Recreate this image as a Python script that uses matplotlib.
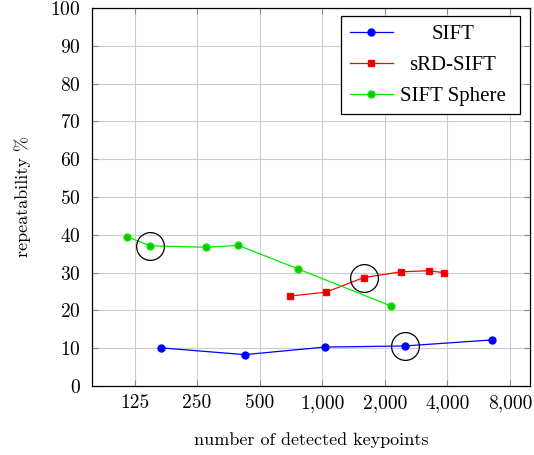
import numpy as np
import matplotlib
matplotlib.use("Agg")
import matplotlib.pyplot as plt
from matplotlib.ticker import FixedLocator, FixedFormatter, NullLocator

# data
sift_x = [168, 423, 1028, 2497, 6553]
sift_y = [10.1, 8.3, 10.3, 10.6, 12.2]

srd_x = [697, 1040, 1585, 2390, 3253, 3840]
srd_y = [23.8, 24.8, 28.7, 30.2, 30.5, 30.0]

sphere_x = [115, 149, 277, 395, 764, 2138]
sphere_y = [39.5, 37.1, 36.7, 37.2, 31.0, 21.2]

# highlighted points (circled)
circ_x = [149, 1585, 2497]
circ_y = [37.1, 28.7, 10.6]

xticks = [125, 250, 500, 1000, 2000, 4000, 8000]
xlabels = ["125", "250", "500", "1,000", "2,000", "4,000", "8,000"]
yticks = list(range(0, 101, 10))

plt.rcParams["font.family"] = "cmr10"
plt.rcParams["axes.formatter.use_mathtext"] = True
plt.rcParams["xtick.labelsize"] = 14
plt.rcParams["ytick.labelsize"] = 14

fig = plt.figure(figsize=(5.34, 4.55), dpi=100)
ax = fig.add_axes([0.1723, 0.1516, 0.8202, 0.8308])

ax.plot(sift_x, sift_y, "-o", color="#0000ff", lw=0.9, ms=5, label="SIFT", zorder=3)
ax.plot(srd_x, srd_y, "-s", color="#ff0000", lw=0.9, ms=5, mfc="#e00000",
        label="sRD-SIFT", zorder=3)
ax.plot(sphere_x, sphere_y, "-o", color="#00ee00", lw=0.9, ms=5, mfc="#22bb00",
        label="SIFT Sphere", zorder=3)
ax.plot(circ_x, circ_y, "o", mfc="none", mec="black", ms=20, mew=0.9, zorder=4)

ax.set_xscale("log", base=2)
ax.set_xlim(78, 10000)
ax.set_ylim(0, 100)
ax.xaxis.set_major_locator(FixedLocator(xticks))
ax.xaxis.set_major_formatter(FixedFormatter(xlabels))
ax.xaxis.set_minor_locator(NullLocator())
ax.set_yticks(yticks)

ax.grid(True, color="#cccccc", lw=0.8)
ax.set_axisbelow(True)
ax.tick_params(direction="in", top=True, right=True, length=4, color="#888888")
ax.tick_params(axis="y", pad=8)
ax.tick_params(axis="x", pad=6)
for s in ax.spines.values():
    s.set_linewidth(0.9)

ax.set_xlabel("number of detected keypoints", fontsize=13, labelpad=14)
ax.set_ylabel("repeatability %", fontsize=13, labelpad=14)

leg = ax.legend(loc="upper right", prop={"family": "Liberation Serif", "size": 15},
                fancybox=False, edgecolor="black", framealpha=1, handlelength=2.1,
                handletextpad=0.6, borderaxespad=0,
                bbox_to_anchor=(1 - 10 / 438, 1 - 8 / 378),
                labelspacing=0.55)
leg.get_frame().set_linewidth(0.9)

# center the legend entries like the reference
fig.canvas.draw()
r = fig.canvas.get_renderer()
texts = leg.get_texts()
widths = [t.get_window_extent(r).width for t in texts]
wmax = max(widths)
for t, w in zip(texts, widths):
    t.set_position(((wmax - w) / 2 - 6, 0))

fig.savefig("out.png", dpi=100)
